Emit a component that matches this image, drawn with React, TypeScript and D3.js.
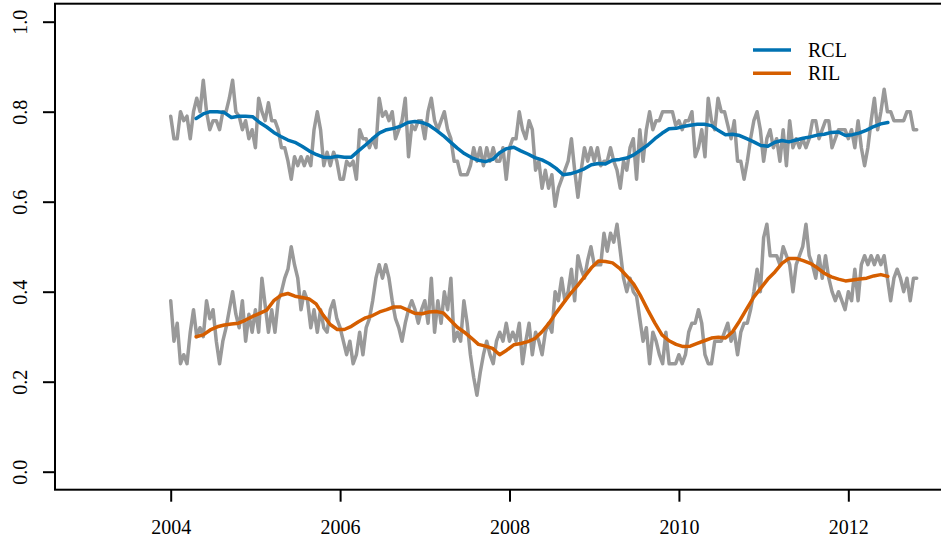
import React from 'react'
import * as d3 from 'd3'

// raw series, one value every two weeks starting Jan 2004
const rclRaw = [
    0.79, 0.74, 0.74, 0.80, 0.78, 0.79, 0.74, 0.80, 0.83, 0.80,
    0.87, 0.80, 0.76, 0.78, 0.78, 0.76, 0.80, 0.80, 0.83, 0.87,
    0.80, 0.79, 0.76, 0.78, 0.74, 0.76, 0.72, 0.83, 0.80, 0.78,
    0.82, 0.78, 0.78, 0.76, 0.72, 0.72, 0.69, 0.65, 0.70, 0.68,
    0.70, 0.68, 0.70, 0.68, 0.76, 0.80, 0.76, 0.68, 0.71, 0.68,
    0.71, 0.69, 0.65, 0.65, 0.69, 0.68, 0.69, 0.65, 0.76, 0.74,
    0.74, 0.72, 0.74, 0.72, 0.83, 0.79, 0.80, 0.78, 0.80, 0.74,
    0.76, 0.78, 0.83, 0.70, 0.77,
    0.76, 0.78, 0.78, 0.74, 0.80, 0.83, 0.78, 0.76, 0.78, 0.80,
    0.76, 0.74, 0.69, 0.69, 0.66, 0.66, 0.66, 0.68, 0.72, 0.69,
    0.72, 0.68, 0.72, 0.69, 0.72, 0.69, 0.69, 0.72, 0.65, 0.72,
    0.74, 0.74, 0.80, 0.76, 0.74, 0.78, 0.76, 0.67, 0.69, 0.63,
    0.67, 0.63, 0.66, 0.59, 0.63, 0.65, 0.67, 0.69, 0.74, 0.67,
    0.61, 0.67, 0.72, 0.69, 0.72, 0.69, 0.72, 0.68, 0.69, 0.69,
    0.72, 0.69, 0.67, 0.63, 0.69, 0.67, 0.72, 0.74, 0.65, 0.76,
    0.69, 0.76, 0.80, 0.76, 0.78, 0.78, 0.80,
    0.80, 0.80, 0.80, 0.77, 0.78, 0.76, 0.78, 0.78, 0.80, 0.70,
    0.72, 0.76, 0.70, 0.83, 0.78, 0.76, 0.83, 0.80, 0.80, 0.77,
    0.74, 0.78, 0.69, 0.69, 0.65, 0.69, 0.74, 0.78, 0.80, 0.76,
    0.69, 0.74, 0.76, 0.72, 0.74, 0.69, 0.76, 0.68, 0.78, 0.72,
    0.74, 0.72, 0.74, 0.72, 0.74, 0.78, 0.78, 0.74, 0.76, 0.78,
    0.78, 0.72, 0.74, 0.76, 0.76, 0.76, 0.74, 0.76, 0.72, 0.78,
    0.72, 0.68, 0.72, 0.78, 0.83, 0.76, 0.80, 0.85, 0.80, 0.80,
    0.78, 0.78, 0.78, 0.78, 0.80, 0.80, 0.76, 0.76
]

const rilRaw = [
    0.38, 0.29, 0.33, 0.24, 0.26, 0.24, 0.31, 0.36, 0.30, 0.32,
    0.30, 0.38, 0.34, 0.36, 0.29, 0.24, 0.29, 0.32, 0.36, 0.40,
    0.35, 0.32, 0.38, 0.29, 0.35, 0.31, 0.36, 0.31, 0.43, 0.37,
    0.31, 0.36, 0.31, 0.38, 0.40, 0.43, 0.45,
    0.50, 0.46, 0.43, 0.36, 0.40, 0.38, 0.32, 0.36, 0.31, 0.36,
    0.32, 0.31, 0.36, 0.38, 0.34, 0.32, 0.29, 0.26, 0.29, 0.24,
    0.26, 0.31, 0.26, 0.32, 0.34, 0.38, 0.43, 0.46, 0.43, 0.46,
    0.43, 0.38, 0.34, 0.32, 0.29, 0.33, 0.36, 0.38,
    0.36, 0.33, 0.36, 0.38, 0.33, 0.43, 0.31, 0.38, 0.33, 0.40,
    0.36, 0.43, 0.29, 0.31, 0.29, 0.38, 0.33, 0.26, 0.21, 0.17,
    0.22, 0.26, 0.29, 0.26, 0.24, 0.29, 0.31, 0.29, 0.33, 0.29,
    0.31, 0.29, 0.33, 0.24, 0.29, 0.33, 0.26, 0.31, 0.29, 0.26,
    0.31, 0.33, 0.31, 0.40, 0.38, 0.43, 0.38, 0.40, 0.45, 0.38,
    0.48, 0.45, 0.43, 0.47, 0.50, 0.46, 0.46, 0.46, 0.53, 0.49,
    0.53, 0.51, 0.55,
    0.49, 0.43, 0.40, 0.43, 0.40, 0.39, 0.34, 0.29, 0.32, 0.24,
    0.31, 0.29, 0.26, 0.24,
    0.31, 0.24, 0.24, 0.24, 0.26, 0.24, 0.26,
    0.31, 0.33, 0.33, 0.36, 0.33, 0.26, 0.24, 0.24, 0.29,
    0.29, 0.29, 0.31, 0.33, 0.29, 0.31, 0.26, 0.31, 0.33,
    0.33, 0.36, 0.40, 0.45, 0.40, 0.52, 0.55, 0.48, 0.48,
    0.48, 0.46, 0.50, 0.48, 0.46, 0.40, 0.46, 0.48, 0.50,
    0.55, 0.48, 0.46, 0.43, 0.48, 0.43, 0.48, 0.43, 0.40,
    0.38, 0.40, 0.38, 0.36, 0.40, 0.38, 0.45, 0.38, 0.46,
    0.48, 0.46, 0.48, 0.46, 0.48, 0.46, 0.48, 0.43, 0.38, 0.43,
    0.45, 0.43, 0.40, 0.43, 0.38, 0.43, 0.43
]

// smoothed series, monthly
const rclSmooth = [
    0.785, 0.795, 0.800, 0.800, 0.798, 0.787, 0.790, 0.790, 0.789, 0.776,
    0.766, 0.754, 0.745, 0.737, 0.732, 0.723, 0.713, 0.705, 0.699, 0.698,
    0.701, 0.699, 0.699, 0.713, 0.726, 0.740, 0.753, 0.760, 0.763, 0.768,
    0.776, 0.778, 0.776, 0.770, 0.759, 0.747, 0.733, 0.719, 0.707, 0.698,
    0.692, 0.689, 0.694, 0.709, 0.718, 0.721, 0.713, 0.706, 0.698, 0.693,
    0.685, 0.674, 0.660, 0.662, 0.667, 0.673, 0.682, 0.685, 0.684, 0.692,
    0.694, 0.697, 0.704, 0.715, 0.726, 0.740, 0.752, 0.762, 0.763, 0.767,
    0.770, 0.772, 0.772, 0.769, 0.758, 0.749, 0.750, 0.747, 0.740, 0.733,
    0.725, 0.723, 0.732, 0.736, 0.733, 0.737, 0.741, 0.744, 0.748, 0.750,
    0.754, 0.755, 0.747, 0.749, 0.753, 0.759, 0.767, 0.773, 0.776
]

const rilSmooth = [
    0.300, 0.304, 0.315, 0.322, 0.326, 0.328, 0.330, 0.337, 0.345, 0.352,
    0.359, 0.380, 0.392, 0.396, 0.390, 0.387, 0.384, 0.373, 0.348, 0.327,
    0.316, 0.316, 0.323, 0.333, 0.342, 0.347, 0.355, 0.360, 0.366, 0.366,
    0.359, 0.352, 0.351, 0.355, 0.356, 0.353, 0.337, 0.321, 0.310, 0.297,
    0.283, 0.279, 0.274, 0.260, 0.270, 0.282, 0.285, 0.289, 0.296, 0.311,
    0.330, 0.353, 0.374, 0.395, 0.413, 0.433, 0.453, 0.468, 0.467, 0.464,
    0.452, 0.435, 0.417, 0.390, 0.359, 0.330, 0.304, 0.291, 0.283, 0.278,
    0.279, 0.285, 0.291, 0.297, 0.299, 0.297, 0.311, 0.335, 0.362, 0.388,
    0.408, 0.428, 0.444, 0.463, 0.474, 0.474, 0.469, 0.463, 0.453, 0.441,
    0.433, 0.428, 0.424, 0.426, 0.428, 0.430, 0.435, 0.438, 0.434
]

const xTicks = [2004, 2006, 2008, 2010, 2012]
const yTicks = [0, 0.2, 0.4, 0.6, 0.8, 1.0]
const seriesNames = ['RCL', 'RIL']

const RAW_START = 2004
const RAW_FREQ = 26
const SMOOTH_START = 2004.3
const SMOOTH_FREQ = 12

const colors = { raw: '#999999', RCL: '#0072B2', RIL: '#D55E00' }
const font = "'Liberation Serif', 'Times New Roman', serif"

class App extends React.Component {
    node: SVGSVGElement | null = null

    componentDidMount() {
        document.body.style.margin = '0'
        const svg = d3.select(this.node)
        svg.selectAll('*').remove()

        const box = { left: 55, right: 942, top: 3.7, bottom: 489.7 }
        const x = d3.scaleLinear().domain([2002.634, 2013.106]).range([box.left, box.right])
        const y = d3.scaleLinear().domain([-0.04, 1.04]).range([box.bottom, box.top])

        const rawLine = d3.line<number>()
            .x((d, i) => x(RAW_START + i / RAW_FREQ))
            .y(d => y(d))
        const smoothLine = d3.line<number>()
            .x((d, i) => x(SMOOTH_START + i / SMOOTH_FREQ))
            .y(d => y(d))

        // grey raw series
        svg.selectAll('path.raw').data([rclRaw, rilRaw]).enter().append('path')
            .attr('class', 'raw')
            .attr('d', d => rawLine(d))
            .style('fill', 'none')
            .style('stroke', colors.raw)
            .style('stroke-width', 3.5)
            .style('stroke-linejoin', 'round')
            .style('stroke-linecap', 'round')

        // smoothed
        const smooth = [
            { name: 'RCL', values: rclSmooth },
            { name: 'RIL', values: rilSmooth }
        ]
        svg.selectAll('path.smooth').data(smooth).enter().append('path')
            .attr('class', 'smooth')
            .attr('d', d => smoothLine(d.values))
            .style('fill', 'none')
            .style('stroke', d => colors[d.name])
            .style('stroke-width', 3.5)
            .style('stroke-linejoin', 'round')
            .style('stroke-linecap', 'round')

        // box
        svg.append('rect')
            .attr('x', box.left)
            .attr('y', box.top)
            .attr('width', box.right - box.left)
            .attr('height', box.bottom - box.top)
            .style('fill', 'none')
            .style('stroke', '#000')
            .style('stroke-width', 2)

        // x axis
        const xAxis = svg.append('g')
            .attr('transform', `translate(0,${box.bottom})`)
            .call(d3.axisBottom(x).tickValues(xTicks).tickSize(12).tickFormat(d3.format('d')))
        xAxis.select('.domain').remove()
        xAxis.selectAll('line').style('stroke', '#000').style('stroke-width', 2)
        xAxis.selectAll('text')
            .attr('y', 44.3)
            .attr('dy', 0)
            .style('font-family', font)
            .style('font-size', '20px')
            .style('fill', '#000')

        // y axis
        const yAxis = svg.append('g')
            .attr('transform', `translate(${box.left},0)`)
            .call(d3.axisLeft(y).tickValues(yTicks).tickSize(12).tickFormat(d3.format('.1f')))
        yAxis.select('.domain').remove()
        yAxis.selectAll('line').style('stroke', '#000').style('stroke-width', 2)
        yAxis.selectAll('text')
            .attr('transform', 'rotate(-90)')
            .attr('x', 0)
            .attr('y', -28)
            .attr('dy', 0)
            .attr('text-anchor', 'middle')
            .style('font-family', font)
            .style('font-size', '20px')
            .style('fill', '#000')

        // legend
        const legend = svg.selectAll('g.legend').data(seriesNames).enter().append('g')
            .attr('class', 'legend')
            .attr('transform', (d, i) => `translate(753,${50 + i * 23.3})`)
        legend.append('line')
            .attr('x1', 0).attr('x2', 38)
            .attr('y1', 0).attr('y2', 0)
            .style('stroke', d => colors[d])
            .style('stroke-width', 3.5)
        legend.append('text')
            .attr('x', 55)
            .attr('y', 7)
            .text(d => d)
            .style('font-family', font)
            .style('font-size', '20px')
            .style('fill', '#000')
    }

    render() {
        return (
            <svg ref={node => { this.node = node }} width={941} height={542}
                style={{ display: 'block', background: '#fff' }}>
            </svg>
        )
    }
}

export default App
